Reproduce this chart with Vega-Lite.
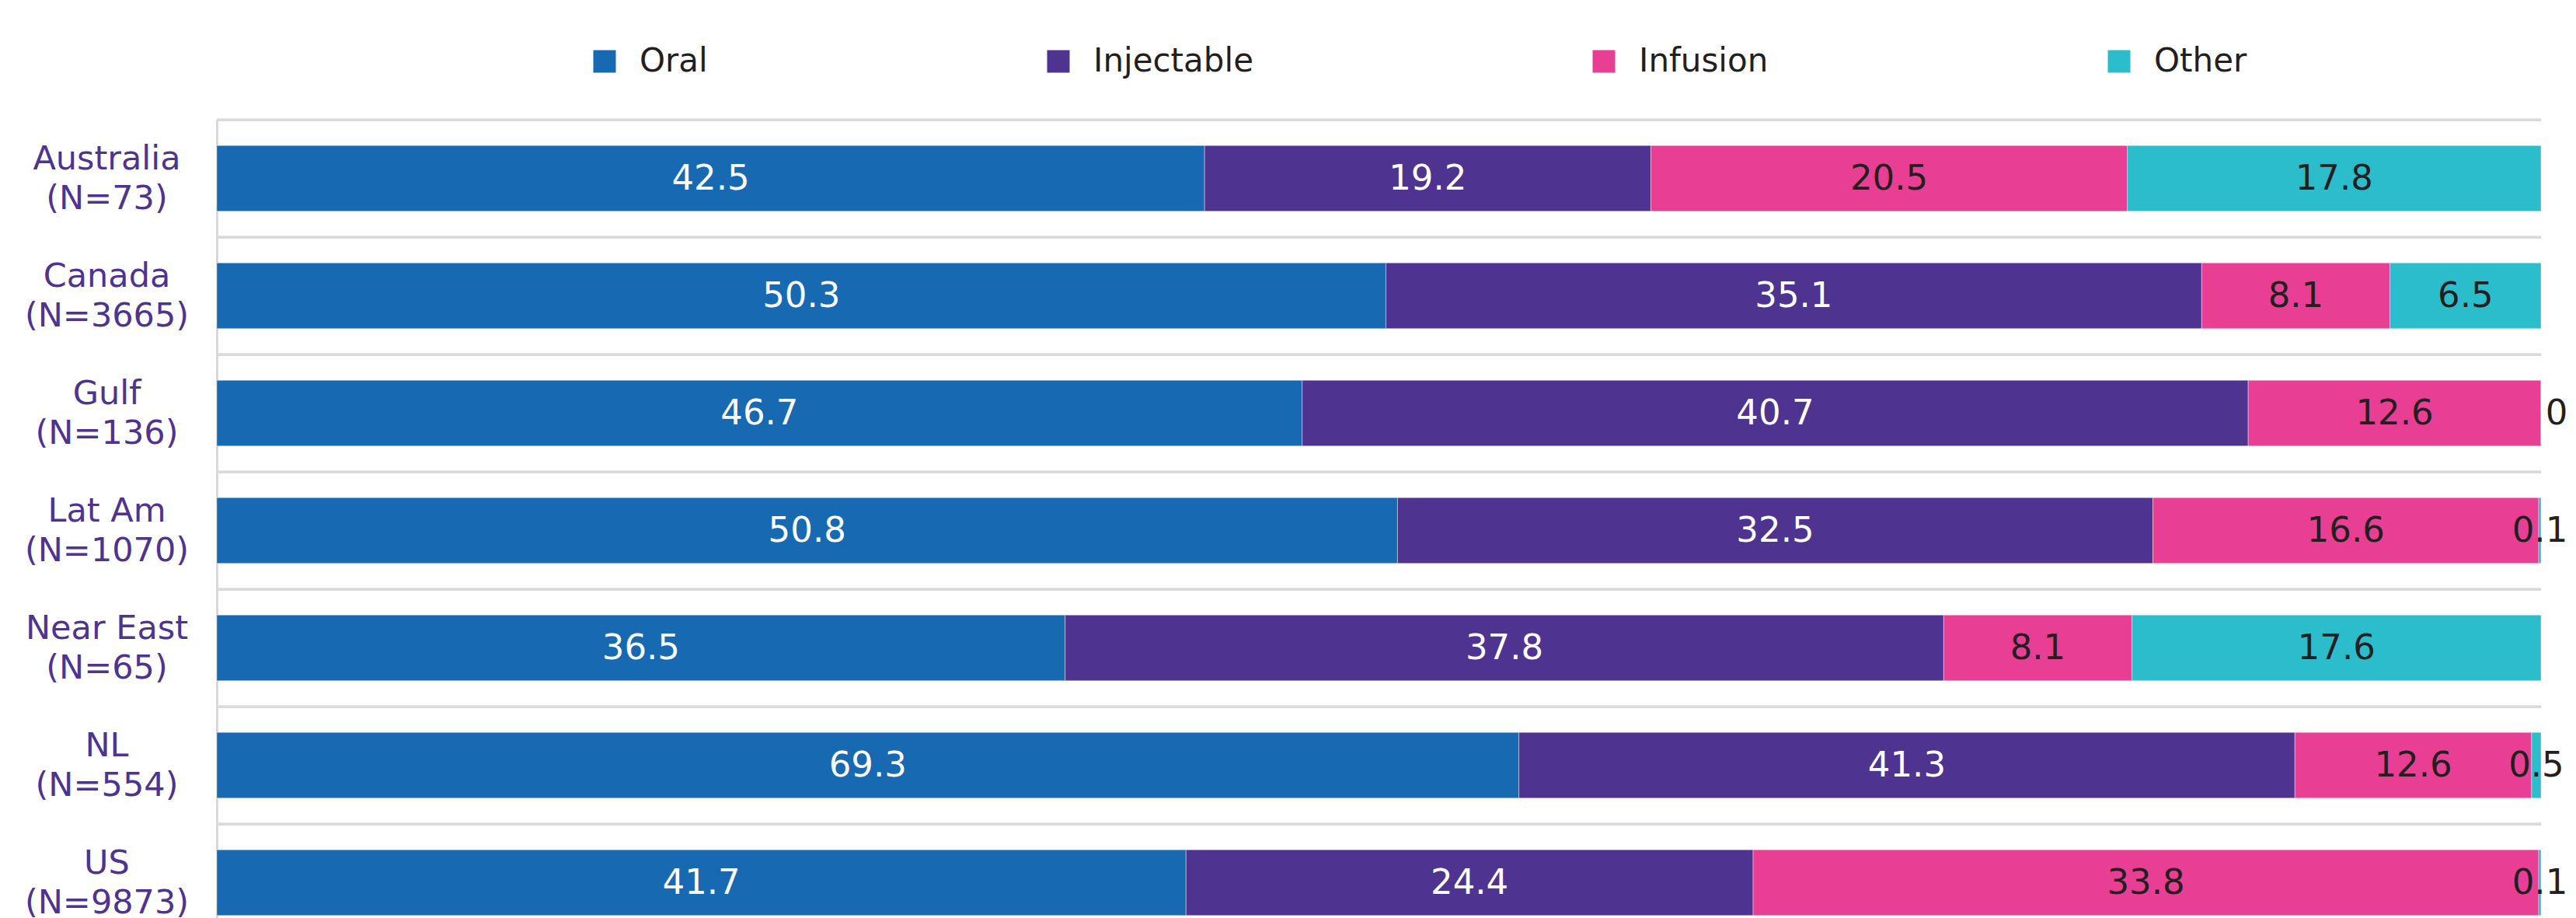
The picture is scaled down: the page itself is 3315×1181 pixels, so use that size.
{
  "$schema": "https://vega.github.io/schema/vega-lite/v6.json",
  "autosize": "none",
  "width": 2991,
  "height": 1057,
  "padding": {"left": 279, "top": 154, "right": 45, "bottom": 0},
  "background": "white",
  "config": {
    "view": {"stroke": null},
    "font": "DejaVu Sans"
  },
  "data": {
    "values": [
      {"region": "Australia|(N=73)", "type": "Oral", "value": 42.5},
      {"region": "Australia|(N=73)", "type": "Injectable", "value": 19.2},
      {"region": "Australia|(N=73)", "type": "Infusion", "value": 20.5},
      {"region": "Australia|(N=73)", "type": "Other", "value": 17.8},
      {"region": "Canada|(N=3665)", "type": "Oral", "value": 50.3},
      {"region": "Canada|(N=3665)", "type": "Injectable", "value": 35.1},
      {"region": "Canada|(N=3665)", "type": "Infusion", "value": 8.1},
      {"region": "Canada|(N=3665)", "type": "Other", "value": 6.5},
      {"region": "Gulf|(N=136)", "type": "Oral", "value": 46.7},
      {"region": "Gulf|(N=136)", "type": "Injectable", "value": 40.7},
      {"region": "Gulf|(N=136)", "type": "Infusion", "value": 12.6},
      {"region": "Gulf|(N=136)", "type": "Other", "value": 0},
      {"region": "Lat Am|(N=1070)", "type": "Oral", "value": 50.8},
      {"region": "Lat Am|(N=1070)", "type": "Injectable", "value": 32.5},
      {"region": "Lat Am|(N=1070)", "type": "Infusion", "value": 16.6},
      {"region": "Lat Am|(N=1070)", "type": "Other", "value": 0.1},
      {"region": "Near East|(N=65)", "type": "Oral", "value": 36.5},
      {"region": "Near East|(N=65)", "type": "Injectable", "value": 37.8},
      {"region": "Near East|(N=65)", "type": "Infusion", "value": 8.1},
      {"region": "Near East|(N=65)", "type": "Other", "value": 17.6},
      {"region": "NL|(N=554)", "type": "Oral", "value": 69.3},
      {"region": "NL|(N=554)", "type": "Injectable", "value": 41.3},
      {"region": "NL|(N=554)", "type": "Infusion", "value": 12.6},
      {"region": "NL|(N=554)", "type": "Other", "value": 0.5},
      {"region": "US|(N=9873)", "type": "Oral", "value": 41.7},
      {"region": "US|(N=9873)", "type": "Injectable", "value": 24.4},
      {"region": "US|(N=9873)", "type": "Infusion", "value": 33.8},
      {"region": "US|(N=9873)", "type": "Other", "value": 0.1}
    ]
  },
  "transform": [
    {"calculate": "indexof(['Oral','Injectable','Infusion','Other'], datum.type)", "as": "ord"},
    {"stack": "value", "groupby": ["region"], "sort": [{"field": "ord", "order": "ascending"}], "offset": "normalize", "as": ["x0", "x1"]},
    {"calculate": "(datum.x0 + datum.x1) / 2", "as": "mid"}
  ],
  "encoding": {
    "y": {
      "field": "region",
      "type": "nominal",
      "sort": null,
      "title": null,
      "scale": {"paddingInner": 0.44, "paddingOuter": 0.22},
      "axis": {
        "labelExpr": "split(datum.value, '|')",
        "labelAlign": "center",
        "labelBaseline": "middle",
        "labelFontSize": 43,
        "labelLineHeight": 51,
        "labelLimit": 0,
        "labelOffset": -25,
        "labelColor": "#4e3390",
        "labelPadding": 142,
        "ticks": false,
        "tickSize": 0,
        "domainColor": "#d9d9d9",
        "domainWidth": 3,
        "grid": false
      }
    }
  },
  "layer": [
    {
      "mark": {"type": "rule", "color": "#dadada", "strokeWidth": 3, "yOffset": -33},
      "encoding": {
        "y": {"field": "region", "type": "nominal", "sort": null, "bandPosition": 0}
      }
    },
    {
      "mark": {"type": "bar", "stroke": "white", "strokeWidth": 1, "strokeOpacity": 0.4},
      "encoding": {
        "x": {"field": "x0", "type": "quantitative", "axis": null, "scale": {"domain": [0, 1], "nice": false}},
        "x2": {"field": "x1"},
        "color": {
          "field": "type",
          "type": "nominal",
          "sort": ["Oral", "Injectable", "Infusion", "Other"],
          "scale": {"domain": ["Oral", "Injectable", "Infusion", "Other"], "range": ["#1769b1", "#4e3390", "#e83e94", "#2bbdcc"]},
          "legend": {
            "title": null,
            "orient": "none",
            "direction": "horizontal",
            "legendX": 478,
            "legendY": -96,
            "symbolType": "square",
            "symbolSize": 841,
            "symbolStrokeWidth": 0,
            "symbolOpacity": 1,
            "labelFontSize": 42,
            "labelLimit": 0,
            "labelColor": "#231f20",
            "labelOffset": 24,
            "columnPadding": 430
          }
        }
      }
    },
    {
      "mark": {"type": "text", "fontSize": 45, "baseline": "middle", "align": "center", "dx": {"expr": "datum.value === 0 ? 20 : 0"}},
      "encoding": {
        "x": {"field": "mid", "type": "quantitative"},
        "text": {"field": "value", "type": "quantitative"},
        "color": {
          "condition": {"test": "datum.type === 'Oral' || datum.type === 'Injectable'", "value": "white"},
          "value": "#231f20"
        }
      }
    }
  ]
}
